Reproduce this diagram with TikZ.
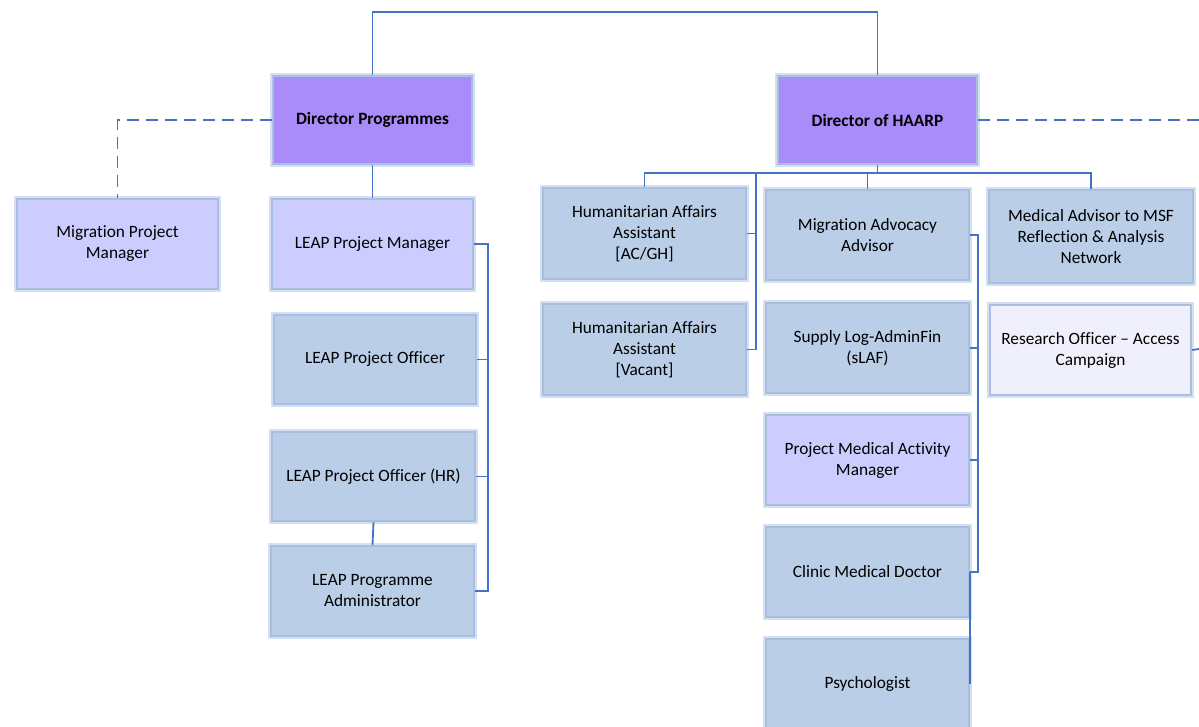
\documentclass[tikz,border=0pt]{standalone}
\usepackage{fontspec}
\setmainfont{Carlito}[Ligatures={NoCommon,NoRequired,NoContextual}]
\definecolor{dirfill}{RGB}{169,139,250}
\definecolor{lavfill}{RGB}{204,204,255}
\definecolor{bluefill}{RGB}{186,206,232}
\definecolor{palefill}{RGB}{240,240,252}
\definecolor{glow}{RGB}{170,190,226}
\definecolor{glowsoft}{RGB}{212,224,242}
\definecolor{connc}{RGB}{68,114,196}
\begin{document}
\begin{tikzpicture}[x=1pt,y=-1pt,
  box/.style={draw=glow, line width=2.5pt, align=center, inner sep=0pt,
    preaction={draw=glowsoft, line width=6pt},
    font=\fontsize{17.3}{21}\selectfont, text=black},
  dirbox/.style={box, fill=dirfill, font=\fontsize{17.3}{21}\selectfont\bfseries},
  lavbox/.style={box, fill=lavfill},
  bluebox/.style={box, fill=bluefill},
  palebox/.style={box, fill=palefill},
  conn/.style={draw=connc, line width=1.8pt},
  dconn/.style={conn, dash pattern=on 12pt off 7pt}]
\clip (0,0) rectangle (1199,727);
\useasboundingbox (0,0) rectangle (1199,727);
\fill[white] (0,0) rectangle (1199,727);

% nodes
\node[dirbox, minimum width=199, minimum height=88] (dp) at (372.5,120) {Director Programmes};
\node[dirbox, minimum width=199, minimum height=88] (dh) at (877.5,120) {Director of HAARP};

\node[lavbox, minimum width=201, minimum height=90] (mpm) at (117.5,244) {Migration Project\\Manager};
\node[lavbox, minimum width=201, minimum height=90] (lpm) at (372.5,244) {LEAP Project Manager};
\node[bluebox, minimum width=202, minimum height=89] (lpo) at (375,359.5) {LEAP Project Officer};
\node[bluebox, minimum width=203, minimum height=89] (lhr) at (373.5,476.5) {LEAP Project Officer (HR)};
\node[bluebox, minimum width=203, minimum height=90] (lpa) at (372.5,591) {LEAP Programme\\Administrator};

\node[bluebox, minimum width=203, minimum height=91] (haa1) at (644.5,233.5) {Humanitarian Affairs\\Assistant\\{}[AC/GH]};
\node[bluebox, minimum width=203, minimum height=91] (haa2) at (644.5,349.5) {Humanitarian Affairs\\Assistant\\{}[Vacant]};

\node[bluebox, minimum width=203, minimum height=90] (maa) at (867.5,235) {Migration Advocacy\\Advisor};
\node[bluebox, minimum width=203, minimum height=90] (sla) at (867.5,348) {Supply Log-AdminFin\\(sLAF)};
\node[lavbox, minimum width=203, minimum height=90] (pma) at (867.5,460) {Project Medical Activity\\Manager};
\node[bluebox, minimum width=203, minimum height=90] (cmd) at (867.5,572) {Clinic Medical Doctor};
\node[bluebox, minimum width=203, minimum height=90] (psy) at (867.5,684) {Psychologist};

\node[bluebox, minimum width=204, minimum height=93] (mad) at (1091,236.5) {Medical Advisor to MSF\\Reflection \& Analysis\\Network};
\node[palebox, minimum width=201, minimum height=90] (roa) at (1090.5,350) {Research Officer -- Access\\Campaign};

% helper coordinates
\coordinate (top) at (625,12);
\coordinate (lbx) at (488,0);
\coordinate (hbus) at (867,173);
\coordinate (hx) at (756,173);
\coordinate (rx) at (978,0);
\coordinate (dhend) at (1199,120);
\coordinate (roend) at (1199,349);

% connectors
\draw[conn] (dp.north) |- (top) -| (dh.north);
\draw[conn] (dp.south) -- (lpm.north);
\draw[dconn] (dp.west) -| (mpm.north);
\draw[dconn] (dh.east) -- (dhend);

\draw[conn] (lpm.east) -- (lpm.east -| lbx) -- (lpa.east -| lbx) -- (lpa.east);
\draw[conn] (lpo.east) -- (lpo.east -| lbx);
\draw[conn] (lhr.east) -- (lhr.east -| lbx);
\draw[conn] (lhr.south) -- (lpa.north);

\draw[conn] (dh.south) -- (dh.south |- hbus);
\draw[conn] (haa1.north) |- (hbus) -| (mad.north);
\draw[conn] (maa.north) -- (maa.north |- hbus);
\draw[conn] (hx) |- (haa2.east);
\draw[conn] (haa1.east) -- (haa1.east -| hx);

\draw[conn] (maa.east) -- (maa.east -| rx) -- (cmd.east -| rx) -- (cmd.east);
\draw[conn] (sla.east) -- (sla.east -| rx);
\draw[conn] (pma.east) -- (pma.east -| rx);
\draw[conn] (cmd.east) -- (psy.east);

\draw[conn] (roa.east) -- (roend);
\end{tikzpicture}
\end{document}
